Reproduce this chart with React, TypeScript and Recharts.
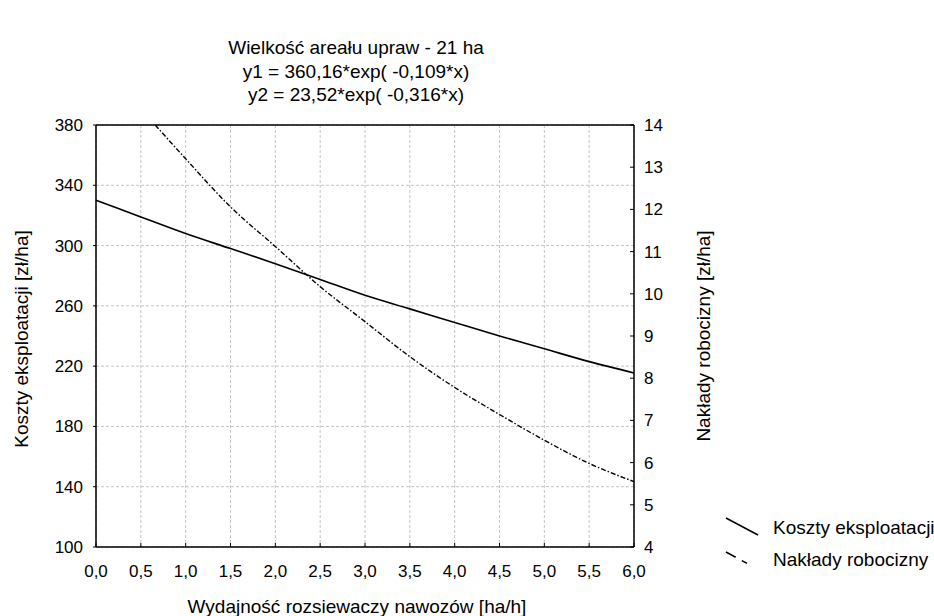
import React from "react";
import { LineChart, Line, XAxis, YAxis, CartesianGrid } from "recharts";

const xTicks = [0, 0.5, 1, 1.5, 2, 2.5, 3, 3.5, 4, 4.5, 5, 5.5, 6];
const topTicks = [0, 0.6, 1.2, 1.8, 2.4, 3, 3.6, 4.2, 4.8, 5.4, 6];
const leftTicks = [100, 140, 180, 220, 260, 300, 340, 380];
const rightTicks = [4, 5, 6, 7, 8, 9, 10, 11, 12, 13, 14];

// Koszty eksploatacji [zł/ha] – left axis
const costX = [0, 0.5, 1, 1.5, 2, 2.5, 3, 3.5, 4, 4.5, 5, 5.5, 6];
const costValues = [330, 319, 308, 298, 288, 277.5, 267, 258, 249, 240, 231.5, 223, 215.5];

// Nakłady robocizny [zł/ha] – right axis
const laborX = [0.66, 1, 1.5, 2, 2.5, 3, 3.5, 4, 4.5, 5, 5.5, 6];
const laborValues = [14, 13.2, 12.06, 11.12, 10.17, 9.34, 8.51, 7.78, 7.14, 6.53, 5.98, 5.55];

const titleLines = [
  "Wielkość areału upraw - 21 ha",
  "y1 = 360,16*exp( -0,109*x)",
  "y2 = 23,52*exp( -0,316*x)",
];

const costData = costX.map((x, i) => ({ x, koszty: costValues[i] }));
const laborData = laborX.map((x, i) => ({ x, naklady: laborValues[i] }));

const FONT = "'Liberation Sans', Arial, sans-serif";
const tickStyle = { fontSize: 17, fill: "#000", fontFamily: FONT };
const axisLine = { stroke: "#000", strokeWidth: 1.5 };
const fmt = (v: number) => v.toFixed(1).replace(".", ",");

const App = () => {
  return (
    <div style={{ position: "absolute", left: 0, top: 0, width: 934, height: 616, background: "#fff", fontFamily: FONT }}>
      <div
        style={{
          position: "absolute",
          left: 156,
          top: 36,
          width: 400,
          textAlign: "center",
          fontSize: 19,
          lineHeight: "23.5px",
        }}
      >
        {titleLines.map((t) => (
          <div key={t}>{t}</div>
        ))}
      </div>

      <LineChart width={934} height={616} margin={{ top: 120, right: 240, bottom: 39, left: 36 }}>
        <CartesianGrid xAxisId="b" yAxisId="l" stroke="#c4c4c4" strokeDasharray="3 2" />
        <XAxis
          xAxisId="b"
          dataKey="x"
          type="number"
          domain={[0, 6]}
          ticks={xTicks}
          interval={0}
          height={30}
          tickFormatter={fmt}
          tick={tickStyle}
          tickSize={-4}
          tickMargin={22}
          axisLine={axisLine}
          tickLine={{ stroke: "#000" }}
          label={{
            content: (p: any) => {
              const vb = p.viewBox;
              return (
                <text x={vb.x + vb.width / 2 - 8} y={613} textAnchor="middle" fontSize={19} fontFamily={FONT} fill="#000">
                  Wydajność rozsiewaczy nawozów [ha/h]
                </text>
              );
            },
          }}
        />
        <XAxis
          xAxisId="t"
          orientation="top"
          dataKey="x"
          type="number"
          domain={[0, 6]}
          ticks={topTicks}
          interval={0}
          height={5}
          tickFormatter={() => ""}
          tickSize={-4}
          axisLine={axisLine}
          tickLine={{ stroke: "#000" }}
        />
        <YAxis
          yAxisId="l"
          orientation="left"
          type="number"
          domain={[100, 380]}
          ticks={leftTicks}
          interval={0}
          width={60}
          tick={tickStyle}
          tickSize={3}
          tickMargin={10}
          axisLine={axisLine}
          tickLine={{ stroke: "#000" }}
          label={{
            content: (p: any) => {
              const vb = p.viewBox;
              const cx = vb.x - 15;
              const cy = vb.y + vb.height / 2 + 3;
              return (
                <text x={cx} y={cy} transform={`rotate(-90, ${cx}, ${cy})`} textAnchor="middle" dominantBaseline="central" fontSize={19} fontFamily={FONT} fill="#000">
                  Koszty eksploatacji [zł/ha]
                </text>
              );
            },
          }}
        />
        <YAxis
          yAxisId="r"
          orientation="right"
          type="number"
          domain={[4, 14]}
          ticks={rightTicks}
          interval={0}
          width={60}
          tick={tickStyle}
          tickSize={-4}
          tickMargin={14}
          axisLine={axisLine}
          tickLine={{ stroke: "#000" }}
          label={{
            content: (p: any) => {
              const vb = p.viewBox;
              const cx = vb.x + 69;
              const cy = vb.y + vb.height / 2;
              return (
                <text x={cx} y={cy} transform={`rotate(-90, ${cx}, ${cy})`} textAnchor="middle" dominantBaseline="central" fontSize={19} fontFamily={FONT} fill="#000">
                  Nakłady robocizny [zł/ha]
                </text>
              );
            },
          }}
        />
        <Line
          xAxisId="b"
          yAxisId="l"
          data={costData}
          dataKey="koszty"
          name="Koszty eksploatacji"
          type="monotone"
          stroke="#000"
          strokeWidth={1.6}
          dot={false}
          isAnimationActive={false}
        />
        <Line
          xAxisId="b"
          yAxisId="r"
          data={laborData}
          dataKey="naklady"
          name="Nakłady robocizny"
          type="monotone"
          stroke="#000"
          strokeWidth={1.4}
          strokeDasharray="5 2 1.5 2"
          dot={false}
          isAnimationActive={false}
        />
      </LineChart>

      <div style={{ position: "absolute", left: 720, top: 488, width: 214, height: 100, fontSize: 19, lineHeight: "20px" }}>
        <svg width={50} height={100} style={{ position: "absolute", left: 0, top: 0 }}>
          <line x1={6} y1={30} x2={38} y2={47} stroke="#000" strokeWidth={1.5} />
          <line x1={6} y1={64} x2={30} y2={77} stroke="#000" strokeWidth={1.5} strokeDasharray="11 7 6 30" />
        </svg>
        <div style={{ position: "absolute", left: 53, top: 30, whiteSpace: "nowrap" }}>Koszty eksploatacji</div>
        <div style={{ position: "absolute", left: 53, top: 62, whiteSpace: "nowrap" }}>Nakłady robocizny</div>
      </div>
    </div>
  );
};

export default App;
